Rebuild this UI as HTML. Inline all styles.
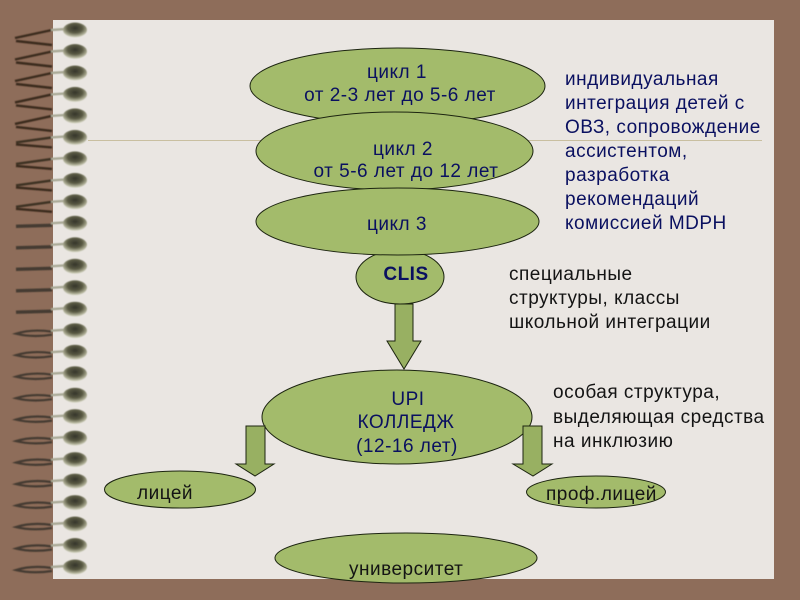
<!DOCTYPE html>
<html><head><meta charset="utf-8"><style>
html,body{margin:0;padding:0;background:#8e6d5a}
svg{display:block}
text{font-family:"Liberation Sans",sans-serif;font-size:19px;letter-spacing:.5px}
.n{fill:#0a1060}.k{fill:#141414}
.e{fill:#a3bb6b;stroke:#1c2410;stroke-width:1}
.a{fill:#98b062;stroke:#1c2410;stroke-width:1}
</style></head><body>
<svg width="800" height="600" viewBox="0 0 800 600" xmlns="http://www.w3.org/2000/svg">
<defs>
<filter id="s" x="-10%" y="-50%" width="120%" height="200%"><feGaussianBlur stdDeviation=".55"/></filter>
<radialGradient id="b" cx=".5" cy=".38" r=".62"><stop offset="0" stop-color="#35352a"/><stop offset=".5" stop-color="#5a5a44"/><stop offset=".8" stop-color="#a5a58c"/><stop offset="1" stop-color="#dcdccb"/></radialGradient>
<g id="bead"><path d="M51 0 L66 -1" stroke="#a9a996" stroke-width="2.4"/><ellipse cx="75" cy="0" rx="12" ry="7.5" fill="url(#b)"/></g>
<g id="r1" filter="url(#s)"><path d="M52 0 L15 8" stroke="#3b2a1e" stroke-width="2.4" fill="none"/><path d="M16 11 L52 15" stroke="#3b2a1e" stroke-width="2.4" fill="none"/><use href="#bead"/></g>
<g id="r2" filter="url(#s)"><path d="M52 0 L16 5" stroke="#3e3024" stroke-width="2.4" fill="none"/><path d="M16 7 L52 10" stroke="#3b2a1e" stroke-width="2.4" fill="none"/><use href="#bead"/></g>
<g id="r3" filter="url(#s)"><path d="M52 2 L16 3" stroke="#453b30" stroke-width="3.4" fill="none"/><use href="#bead"/></g>
<g id="r4" filter="url(#s)"><path d="M52 4 Q32 7 16 3 Q32 -2 52 1" stroke="#453b30" stroke-width="2.2" fill="none"/><use href="#bead"/></g>
</defs>
<rect width="800" height="600" fill="#8e6d5a"/>
<rect x="53" y="20" width="721" height="559" fill="#eae6e2"/>
<use href="#r1" y="30"/><use href="#r1" y="51.5"/><use href="#r1" y="73"/><use href="#r1" y="94.4"/><use href="#r1" y="115.9"/>
<use href="#r2" y="137.4"/><use href="#r2" y="158.9"/><use href="#r2" y="180.4"/><use href="#r2" y="201.8"/>
<use href="#r3" y="223.3"/><use href="#r3" y="244.8"/><use href="#r3" y="266.3"/><use href="#r3" y="287.8"/><use href="#r3" y="309.2"/>
<use href="#r4" y="330.7"/><use href="#r4" y="352.2"/><use href="#r4" y="373.7"/><use href="#r4" y="395.2"/><use href="#r4" y="416.6"/><use href="#r4" y="438.1"/><use href="#r4" y="459.6"/><use href="#r4" y="481.1"/><use href="#r4" y="502.6"/><use href="#r4" y="524"/><use href="#r4" y="545.5"/><use href="#r4" y="567"/>
<line x1="88" y1="140.5" x2="762" y2="140.5" stroke="#c9bfa0" stroke-width="1"/>
<ellipse class="e" cx="400" cy="277" rx="44" ry="27"/>
<ellipse class="e" cx="397.5" cy="86" rx="147.5" ry="38"/>
<ellipse class="e" cx="394.5" cy="151" rx="138.5" ry="39"/>
<ellipse class="e" cx="397.5" cy="221.5" rx="141.5" ry="33.5"/>
<polygon class="a" points="395,304 413,304 413,341 421,341 404,369 387,341 395,341"/>
<ellipse class="e" cx="397" cy="417" rx="135" ry="47"/>
<polygon class="a" points="246,426 265,426 265,464 274,464 255,476 236,464 246,464"/>
<polygon class="a" points="523,426 542,426 542,464 552,464 533,476 513,464 523,464"/>
<ellipse class="e" cx="180" cy="489.5" rx="75.5" ry="18.5"/>
<ellipse class="e" cx="596" cy="492" rx="69.5" ry="16"/>
<ellipse class="e" cx="406" cy="558" rx="131" ry="25"/>
<g class="n" text-anchor="middle">
<text x="397" y="78">цикл 1</text>
<text x="400" y="101">от 2-3 лет до 5-6 лет</text>
<text x="403" y="155">цикл 2</text>
<text x="406" y="177">от 5-6 лет до 12 лет</text>
<text x="397" y="230">цикл 3</text>
<text x="406" y="280" font-weight="bold">CLIS</text>
<text x="408" y="405">UPI</text>
<text x="406" y="428">КОЛЛЕДЖ</text>
<text x="407" y="452">(12-16 лет)</text>
</g>
<g class="n">
<text x="565" y="85">индивидуальная</text>
<text x="565" y="109">интеграция детей с</text>
<text x="565" y="133">ОВЗ, сопровождение</text>
<text x="565" y="157">ассистентом,</text>
<text x="565" y="181">разработка</text>
<text x="565" y="205">рекомендаций</text>
<text x="565" y="229">комиссией MDPH</text>
</g>
<g class="k">
<text x="509" y="280">специальные</text>
<text x="509" y="304">структуры, классы</text>
<text x="509" y="328">школьной интеграции</text>
<text x="553" y="398">особая структура,</text>
<text x="553" y="423">выделяющая средства</text>
<text x="553" y="447">на инклюзию</text>
<text x="137" y="499">лицей</text>
<text x="546" y="500">проф.лицей</text>
<text x="349" y="575">университет</text>
</g>
</svg>
</body></html>
